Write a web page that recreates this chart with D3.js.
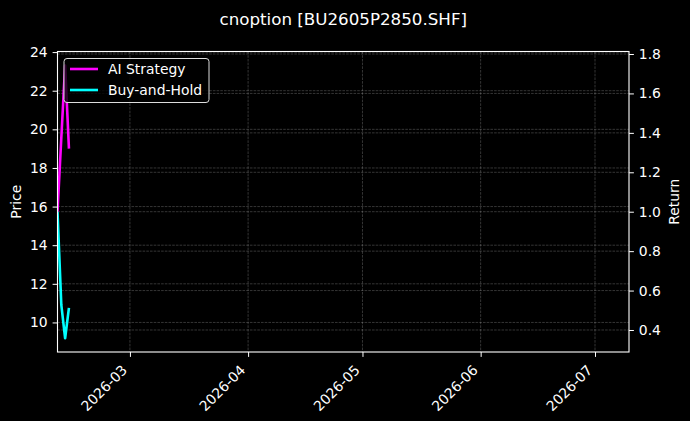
<!DOCTYPE html>
<html>
<head>
<meta charset="utf-8">
<script src="https://cdn.jsdelivr.net/npm/d3@7"></script>
<style>
	body { margin: 0; background: #000; }
	svg { display: block; font-family: "DejaVu Sans", sans-serif; }
	.axis path, .axis line { stroke: #fff; }
	.axis text { fill: #fff; font-size: 13.9px; font-family: "DejaVu Sans", sans-serif; }
</style>
</head>
<body>
<svg width="690" height="421"></svg>
<script>
const w = 690;
const h = 421;
const margin = { left: 57.5, right: 61, top: 51.5, bottom: 69 };

// data
const dates = ["2026-02-10", "2026-02-11", "2026-02-12", "2026-02-13"];
const ai_return = [1.0, 1.375, 1.741, 1.32];
const bh_return = [1.0, 0.527, 0.358, 0.512];
const series_names = ["AI Strategy", "Buy-and-Hold"];
const series_colors = ["#ff00ff", "#00ffff"];
const x_tick_labels = ["2026-03-01", "2026-04-01", "2026-05-01", "2026-06-01", "2026-07-01"];
const price_ticks = [10, 12, 14, 16, 18, 20, 22, 24];
const return_ticks = [0.4, 0.6, 0.8, 1.0, 1.2, 1.4, 1.6, 1.8];
const x_limits = ["2026-02-10T00:00", "2026-07-09T22:00"];
const price_limits = [8.47, 24.03];
const return_limits = [0.2884, 1.8127];

const parse_day = d3.timeParse("%Y-%m-%d");
const parse_limit = d3.timeParse("%Y-%m-%dT%H:%M");

const svg = d3.select("svg");
const x0 = margin.left, x1 = w - margin.right;
const y0 = margin.top, y1 = h - margin.bottom;

const x_scale = d3.scaleTime()
	.domain(x_limits.map(parse_limit))
	.range([x0, x1]);
const price_scale = d3.scaleLinear().domain(price_limits).range([y1, y0]);
const return_scale = d3.scaleLinear().domain(return_limits).range([y1, y0]);

svg.append("rect").attr("width", w).attr("height", h).attr("fill", "#000");

// grid, both y axes have their own
const grid = svg.append("g").attr("stroke", "#fff").attr("stroke-opacity", 0.3)
	.attr("stroke-width", 0.7).attr("stroke-dasharray", "2.6,1.1");
x_tick_labels.forEach((d) => {
	const x = x_scale(parse_day(d));
	grid.append("line").attr("x1", x).attr("x2", x).attr("y1", y0).attr("y2", y1);
});
price_ticks.forEach((d) => {
	const y = price_scale(d);
	grid.append("line").attr("x1", x0).attr("x2", x1).attr("y1", y).attr("y2", y);
});
return_ticks.forEach((d) => {
	const y = return_scale(d);
	grid.append("line").attr("x1", x0).attr("x2", x1).attr("y1", y).attr("y2", y);
});

// lines
svg.append("clipPath").attr("id", "clip").append("rect")
	.attr("x", x0).attr("y", y0).attr("width", x1 - x0).attr("height", y1 - y0);

const line = d3.line()
	.x((d) => x_scale(d[0]))
	.y((d) => return_scale(d[1]));

[ai_return, bh_return].forEach((values, i) => {
	const points = dates.map((d, j) => [parse_day(d), values[j]]);
	svg.append("path")
		.attr("d", line(points))
		.attr("fill", "none")
		.attr("stroke", series_colors[i])
		.attr("stroke-width", 2.6)
		.attr("stroke-linejoin", "round")
		.attr("clip-path", "url(#clip)");
});

// axes
const x_axis = d3.axisBottom(x_scale)
	.tickValues(x_tick_labels.map(parse_day))
	.tickFormat(d3.timeFormat("%Y-%m"))
	.tickSize(4.9).tickPadding(4.9);
svg.append("g").attr("class", "axis")
	.attr("transform", "translate(0," + y1 + ")")
	.call(x_axis)
	.call((g) => g.select(".domain").remove())
	.selectAll("text")
	.attr("text-anchor", "end")
	.attr("y", 0)
	.attr("dy", "0")
	.attr("transform", "translate(-2.3,19) rotate(-45)");

svg.append("g").attr("class", "axis")
	.attr("transform", "translate(" + x0 + ",0)")
	.call(d3.axisLeft(price_scale).tickValues(price_ticks).tickFormat(d3.format("d")).tickSize(4.9).tickPadding(4.9))
	.call((g) => g.select(".domain").remove());

svg.append("g").attr("class", "axis")
	.attr("transform", "translate(" + x1 + ",0)")
	.call(d3.axisRight(return_scale).tickValues(return_ticks).tickFormat(d3.format(".1f")).tickSize(4.9).tickPadding(4.9))
	.call((g) => g.select(".domain").remove());

// frame
svg.append("rect")
	.attr("x", x0).attr("y", y0).attr("width", x1 - x0).attr("height", y1 - y0)
	.attr("fill", "none").attr("stroke", "#fff").attr("stroke-width", 1.1);

// labels
svg.append("text")
	.attr("x", (x0 + x1) / 2).attr("y", 25)
	.attr("text-anchor", "middle").attr("fill", "#fff").attr("font-size", 16.7)
	.text("cnoption [BU2605P2850.SHF]");

svg.append("text")
	.attr("transform", "translate(21," + (y0 + y1) / 2 + ") rotate(-90)")
	.attr("text-anchor", "middle").attr("fill", "#fff").attr("font-size", 13.9)
	.text("Price");

svg.append("text")
	.attr("transform", "translate(679," + (y0 + y1) / 2 + ") rotate(-90)")
	.attr("text-anchor", "middle").attr("fill", "#fff").attr("font-size", 13.9)
	.text("Return");

// legend
const legend = svg.append("g").attr("transform", "translate(64,58.5)");
legend.append("rect")
	.attr("width", 145).attr("height", 44).attr("rx", 3)
	.attr("fill", "#000").attr("fill-opacity", 0.8)
	.attr("stroke", "#ddd").attr("stroke-width", 1);
series_names.forEach((name, i) => {
	const y = 10.5 + i * 21;
	legend.append("line")
		.attr("x1", 6).attr("x2", 34).attr("y1", y).attr("y2", y)
		.attr("stroke", series_colors[i]).attr("stroke-width", 2.6);
	legend.append("text")
		.attr("x", 44).attr("y", y + 5)
		.attr("fill", "#fff").attr("font-size", 13.9)
		.text(name);
});
</script>
</body>
</html>
